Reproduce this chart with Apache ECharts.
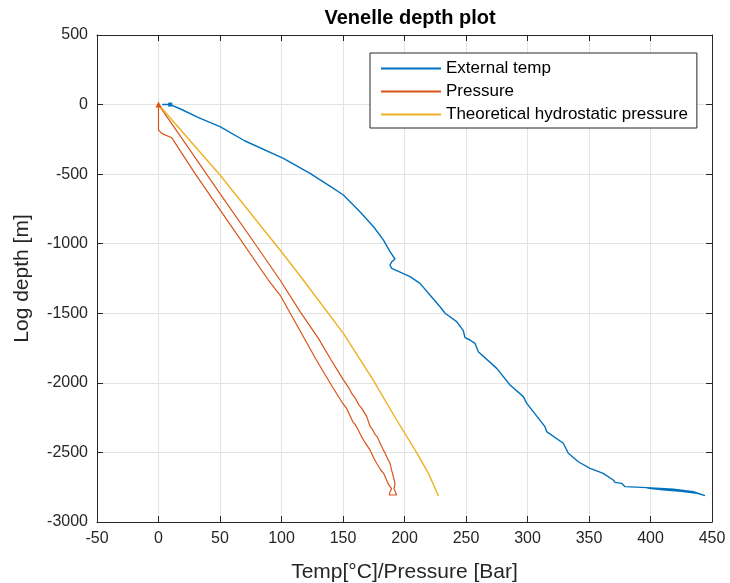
<!DOCTYPE html>
<html>
<head>
<meta charset="utf-8">
<script src="https://cdn.jsdelivr.net/npm/echarts@6/dist/echarts.min.js"></script>
<style>html,body{margin:0;padding:0;background:#fff}#c{width:730px;height:583px}</style>
</head>
<body>
<div id="c"></div>
<script>
// External temp [°C] vs depth [m]
var tempX = [3, 9.5, 10, 17.5, 33, 50, 70, 101.5, 123.2, 140, 150.3, 163.8, 175, 182.8, 188.2, 192.3, 189.5, 188.2, 189.6, 204.5, 212.6, 220.7, 228.9, 233, 242.4, 247.8, 249.2, 253.2, 257.3, 260, 275, 285.8, 296.6, 299.4, 314.2, 315.6, 329.1, 333.2, 341.3, 350.8, 361.6, 369.7, 371.1, 376.5, 379.3, 397, 418.6, 434.8, 444.3, 438, 425, 410, 397];
var tempDepth = [0, 0, -5, -30, -95, -159, -260, -386, -494, -590, -650, -770, -880, -973, -1057, -1110, -1132, -1153, -1177, -1237, -1285, -1369, -1453, -1500, -1560, -1625, -1675, -1692, -1716, -1776, -1896, -2015, -2099, -2147, -2315, -2351, -2434, -2506, -2567, -2614, -2650, -2698, -2715, -2722, -2746, -2753, -2765, -2782, -2811, -2794, -2779, -2769, -2756];

// Pressure [Bar] vs depth [m] (descent then ascent)
var presX = [0, 20, 50, 80, 98.8, 115.1, 130, 140, 150.3, 155, 157, 160, 163, 165, 169.3, 172.1, 174, 176, 178, 180, 182.8, 184, 186, 188.2, 189.5, 190.5, 192.3, 191.5, 193.6, 194.9, 187.6, 188.2, 189.5, 187, 185.4, 183, 181, 177.3, 175, 172, 168, 165, 162.4, 160, 158, 152.9, 150, 142.1, 135, 128, 116, 113.5, 115, 98.8, 89.3, 60, 30, 10.7, 2.6, 0, 0];
var presDepth = [0, -255, -640, -1020, -1261, -1488, -1680, -1830, -1979, -2040, -2075, -2110, -2160, -2180, -2243, -2315, -2335, -2370, -2390, -2430, -2483, -2500, -2540, -2578, -2627, -2660, -2722, -2760, -2806, -2806, -2806, -2782, -2760, -2730, -2698, -2650, -2630, -2578, -2540, -2483, -2430, -2385, -2339, -2300, -2280, -2183, -2150, -2039, -1935, -1830, -1640, -1600, -1608, -1369, -1261, -885, -500, -238, -207, -183, 0];

// Theoretical hydrostatic pressure [Bar] vs depth [m]
var hydroX = [0, 50, 98.8, 117.7, 150.3, 174.6, 193.6, 209.9, 220, 227.6];
var hydroDepth = [0, -506, -1045, -1261, -1644, -1980, -2267, -2502, -2660, -2813];

var xTicks = {min: -50, max: 450, interval: 50};
var yTicks = {min: -3000, max: 500, interval: 500};

function pairs(xs, ys) { return xs.map(function (x, i) { return [x, ys[i]]; }); }

var FONT = '"Liberation Sans", Arial, Helvetica, sans-serif';
var AX = '#262626';

var chart = echarts.init(document.getElementById('c'));
var tempData = pairs(tempX, tempDepth);
tempData[1] = {value: tempData[1], symbol: 'rect', symbolSize: 4};
var presData = pairs(presX, presDepth);
presData[0] = {value: presData[0], symbol: 'triangle', symbolSize: 6};

function plain(v) { return String(v); }

function baseX(pos, labels) {
  return {
    type: 'value', position: pos, min: xTicks.min, max: xTicks.max, interval: xTicks.interval,
    axisLine: {show: true, onZero: false, lineStyle: {color: AX, width: 1}},
    axisTick: {show: true, inside: true, length: 6, lineStyle: {color: AX}},
    axisLabel: {show: labels, color: AX, fontSize: 16, fontFamily: FONT, margin: 9, formatter: plain},
    splitLine: {show: labels, lineStyle: {color: '#e3e3e3', width: 1}}
  };
}
function baseY(pos, labels) {
  return {
    type: 'value', position: pos, min: yTicks.min, max: yTicks.max, interval: yTicks.interval,
    axisLine: {show: true, onZero: false, lineStyle: {color: AX, width: 1}},
    axisTick: {show: true, inside: true, length: 6, lineStyle: {color: AX}},
    axisLabel: {show: labels, color: AX, fontSize: 16, fontFamily: FONT, margin: 9, formatter: plain},
    splitLine: {show: labels, lineStyle: {color: '#e3e3e3', width: 1}}
  };
}
var xa = baseX('bottom', true);
xa.name = 'Temp[\u00B0C]/Pressure [Bar]';
xa.nameLocation = 'middle';
xa.nameGap = 40;
xa.nameTextStyle = {color: AX, fontSize: 21, fontFamily: FONT};
var ya = baseY('left', true);
ya.name = 'Log depth [m]';
ya.nameLocation = 'middle';
ya.nameGap = 64;
ya.nameTextStyle = {color: AX, fontSize: 21, fontFamily: FONT};

chart.setOption({
  animation: false,
  backgroundColor: '#fff',
  title: {
    text: 'Venelle depth plot', left: 405, top: 3, textAlign: 'center',
    textStyle: {color: '#000', fontSize: 20, fontWeight: 'bold', fontFamily: FONT}
  },
  grid: {left: 97, right: 18, top: 35, bottom: 61, containLabel: false, outerBoundsMode: 'none'},
  xAxis: [xa, baseX('top', false)],
  yAxis: [ya, baseY('right', false)],
  legend: {
    orient: 'vertical', left: 370, top: 53,
    backgroundColor: '#fff', borderColor: AX, borderWidth: 1, borderRadius: 0,
    padding: [7, 9, 5, 11], itemGap: 6, itemWidth: 60, itemHeight: 2,
    icon: 'rect',
    textStyle: {color: '#000', fontSize: 17, fontFamily: FONT, padding: [0, 0, 0, 0]},
    data: ['External temp', 'Pressure', 'Theoretical hydrostatic pressure']
  },
  series: [
    {name: 'External temp', type: 'line', data: tempData, showSymbol: true, symbol: 'none',
     lineStyle: {color: '#0072BD', width: 1.4}, itemStyle: {color: '#0072BD'}},
    {name: 'Pressure', type: 'line', data: presData, showSymbol: true, symbol: 'none',
     lineStyle: {color: '#D95319', width: 1.2}, itemStyle: {color: '#D95319'}},
    {name: 'Theoretical hydrostatic pressure', type: 'line', data: pairs(hydroX, hydroDepth), symbol: 'none',
     lineStyle: {color: '#EDB120', width: 1.4}, itemStyle: {color: '#EDB120'}}
  ]
});
</script>
</body>
</html>
